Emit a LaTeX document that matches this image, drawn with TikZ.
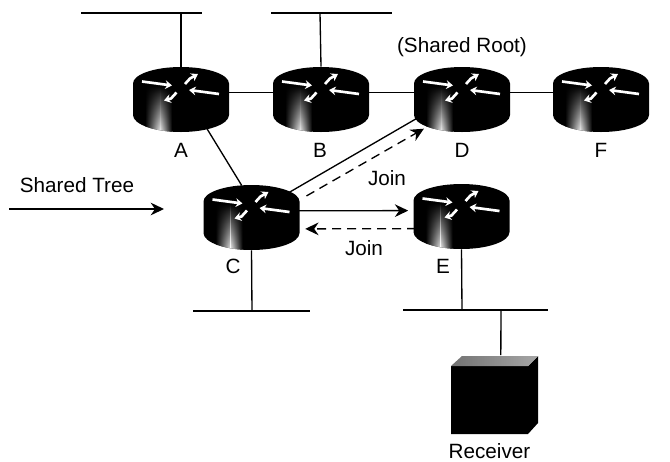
\documentclass[tikz,border=0pt]{standalone}
\usepackage{fontspec}
\setmainfont{Liberation Sans}
\usetikzlibrary{arrows.meta,shapes.geometric,fadings}

\tikzset{
  link/.style={line width=1pt,color=black},
  joinsolid/.style={link,-{Stealth[length=10pt,width=9.5pt]}},
  joindash/.style={link,dash pattern=on 6.75pt off 4.5pt,-{Stealth[length=10pt,width=9.5pt]}},
  routernode/.style={ellipse,minimum width=72.75pt,minimum height=48.75pt,inner sep=0pt},
  recvnode/.style={rectangle,minimum width=65.25pt,minimum height=59.25pt,inner sep=0pt},
  routerarrow/.style={white,line width=2pt,-{Stealth[length=5pt,width=6.5pt]}},
  lbl/.style={inner sep=0.75pt,font=\fontsize{15.5}{18}\selectfont},
  router/.pic={
    %body
    \fill[black] (-48,-16) -- (-48,15.5) arc[start angle=180,end angle=0,x radius=48,y radius=17] -- (48,-16)
      arc[start angle=0,end angle=-180,x radius=48,y radius=16.5] -- cycle;
    %highlight
    \begin{scope}
      \clip (-48,-16) -- (-48,15.5) arc[start angle=180,end angle=0,x radius=48,y radius=17] -- (48,-16) -- cycle;
      \shade[left color=black,right color=white,path fading=north] (-36,-14) rectangle (-21,36);
      \shade[left color=white,right color=black,path fading=north] (-21,-14) rectangle (-9,36);
    \end{scope}
    %arrows on top
    \draw[routerarrow] (-39,-18) -- (-9,-14);
    \draw[routerarrow] (38,-5.5) -- (8,-9.5);
    \draw[routerarrow] (4,-15.5) -- (9,-21) -- (17,-25.5);
    \draw[routerarrow] (-4.5,-7) -- (-10,-1) -- (-17,1);
  }
}
\newcommand{\router}[3]{\pic[yscale=-1] at (#2,#3) {router}; \node[routernode] (#1) at (#2,#3) {};}

\begin{document}
\begin{tikzpicture}[x=0.75pt,y=0.75pt,yscale=-1,xscale=1]
\useasboundingbox (0,0) rectangle (670,461);

%Routers
\router{A}{181}{99.5}
\router{B}{321}{99.5}
\router{D}{462}{99.5}
\router{F}{601}{99.5}
\router{C}{251.5}{217.5}
\router{E}{461.5}{216.5}

%Receiver
\fill[black] (451,366) -- (528,366) -- (538,356) -- (538,423) -- (528,434) -- (451,434) -- cycle;
\shade[left color=black!55,right color=black!35] (451,366) -- (462,356) -- (538,356) -- (528,366) -- cycle;
\node[recvnode,minimum width=65.25pt] (recv) at (494.5,395) {};

%LAN coordinates
\coordinate (lanA) at (181,13);
\coordinate (lanAl) at (81,13);
\coordinate (lanAr) at (202,13);
\coordinate (lanB) at (320,13);
\coordinate (lanBl) at (271,13);
\coordinate (lanBr) at (392,13);
\coordinate (lanC) at (252,311);
\coordinate (lanCl) at (193,311);
\coordinate (lanCr) at (310,311);
\coordinate (lanE) at (462,310);
\coordinate (lanEl) at (403,310);
\coordinate (lanEr) at (548,310);
\coordinate (lanR) at (501,310);
\coordinate (treeL) at (9,209);
\coordinate (treeR) at (164,209);

%Straight Lines
\draw[link] (lanAl) -- (lanAr);
\draw[link] (lanBl) -- (lanBr);
\draw[link] (lanCl) -- (lanCr);
\draw[link] (lanEl) -- (lanEr);
\draw[link] (lanA) -- (A.north);
\draw[link] (lanB) -- (B.north);
\draw[link] (C.south) -- (lanC);
\draw[link] (E.south) -- (lanE);
\draw[link] (lanR) -- (recv.81);
\draw[link] (A.8) -- (B.172);
\draw[link] (B.8) -- (D.172);
\draw[link] (D.8) -- (F.172);
\draw[link] (A.-48) -- (C.107);
\draw[link] (C.34) -- (D.202);

%Arrows
\draw[joinsolid] (treeL) -- (treeR);
\draw[joinsolid,shorten >=4pt] (C.8) -- (E.173);
\draw[joindash,shorten >=6pt,shorten <=10pt] (C.19) -- (D.219);
\draw[joindash,shorten >=6pt] (E.195) -- (C.-14);

% Text Node
\node[lbl] (lblA) at (181,150) {A};
\node[lbl] (lblB) at (320,150) {B};
\node[lbl] (lblD) at (462,150) {D};
\node[lbl] (lblF) at (601,150) {F};
\node[lbl] (lblC) at (233,266) {C};
\node[lbl] (lblE) at (443,266) {E};
\node[lbl] (lblroot) at (462,47) {(Shared Root)};
\node[lbl] (lbltree) at (77,185) {Shared Tree};
\node[lbl] (lbljoinD) at (387,178) {Join};
\node[lbl] (lbljoinE) at (364,248) {Join};
\node[lbl] (lblrecv) at (489.5,451) {Receiver};

\end{tikzpicture}
\end{document}
